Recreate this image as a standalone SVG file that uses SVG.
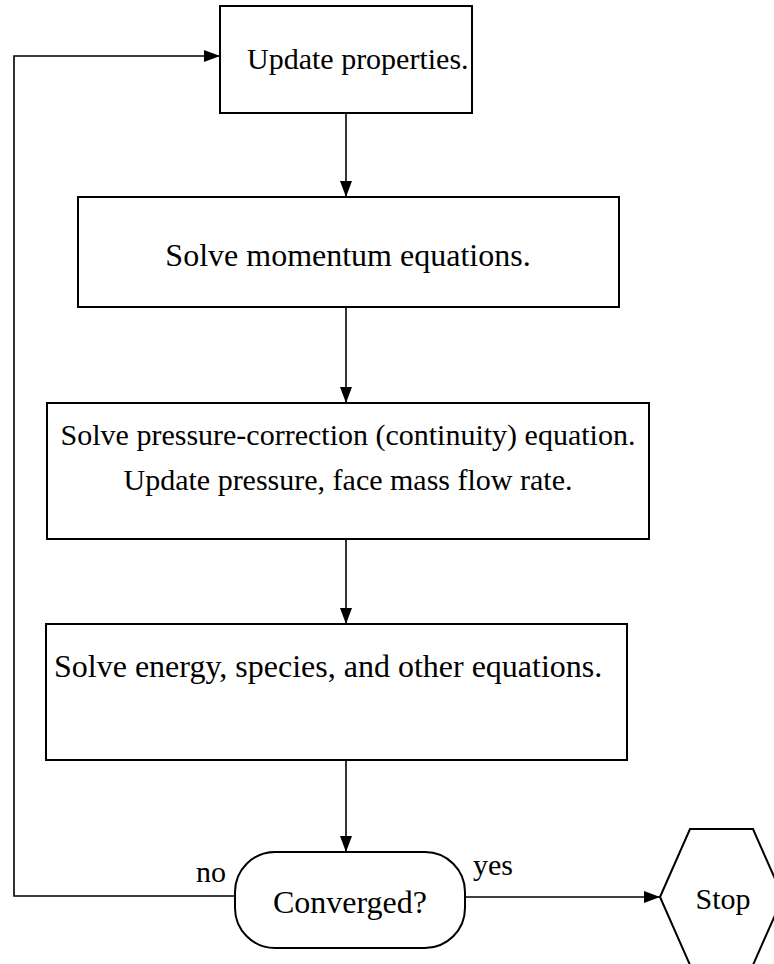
<svg xmlns="http://www.w3.org/2000/svg" width="774" height="964" viewBox="0 0 774 964">
  <style>
    .box { fill: #fff; stroke: #000; stroke-width: 2; }
    .lbl { font-family: "Liberation Serif", "Times New Roman", serif; font-size: 30px; fill: #000; }
    .big { font-size: 32px; }
    .mid { text-anchor: middle; }
    .edge { fill: none; stroke: #000; stroke-width: 1.6; }
  </style>
  <defs>
    <marker id="arrow" viewBox="0 0 16 12" refX="16" refY="6" markerWidth="16" markerHeight="12" markerUnits="userSpaceOnUse" orient="auto">
      <path d="M0,0 L16,6 L0,12 Z" fill="#000"/>
    </marker>
  </defs>
  <rect width="774" height="964" fill="#fff"/>

  <g id="connectors">
    <line class="edge" x1="346" y1="113" x2="346" y2="197" marker-end="url(#arrow)"/>
    <line class="edge" x1="346" y1="307" x2="346" y2="403" marker-end="url(#arrow)"/>
    <line class="edge" x1="346" y1="539" x2="346" y2="624" marker-end="url(#arrow)"/>
    <line class="edge" x1="346" y1="760" x2="346" y2="852" marker-end="url(#arrow)"/>
    <polyline class="edge" points="235,896 14,896 14,56 220,56" marker-end="url(#arrow)"/>
    <line class="edge" x1="465" y1="897" x2="660" y2="897" marker-end="url(#arrow)"/>
    <text class="lbl" x="196" y="882">no</text>
    <text class="lbl" x="473" y="875">yes</text>
  </g>

  <g id="update-properties">
    <rect class="box" x="220" y="6" width="252" height="107"/>
    <text class="lbl" x="247" y="69">Update properties.</text>
  </g>

  <g id="solve-momentum">
    <rect class="box" x="78" y="197" width="541" height="110"/>
    <text class="lbl big mid" x="348" y="266">Solve momentum equations.</text>
  </g>

  <g id="pressure-correction">
    <rect class="box" x="47" y="403" width="602" height="136"/>
    <text class="lbl mid" x="348" y="445">Solve pressure-correction (continuity) equation.</text>
    <text class="lbl mid" x="348" y="490">Update pressure, face mass flow rate.</text>
  </g>

  <g id="solve-energy">
    <rect class="box" x="46" y="624" width="581" height="136"/>
    <text class="lbl big" x="54" y="677">Solve energy, species, and other equations.</text>
  </g>

  <g id="converged">
    <rect class="box" x="235" y="852" width="230" height="96" rx="40" ry="40"/>
    <text class="lbl big mid" x="350" y="913">Converged?</text>
  </g>

  <g id="stop">
    <polygon class="box" points="660,897 690,829 753,829 783,897 753,965 690,965"/>
    <text class="lbl mid" x="723" y="909">Stop</text>
  </g>
</svg>
